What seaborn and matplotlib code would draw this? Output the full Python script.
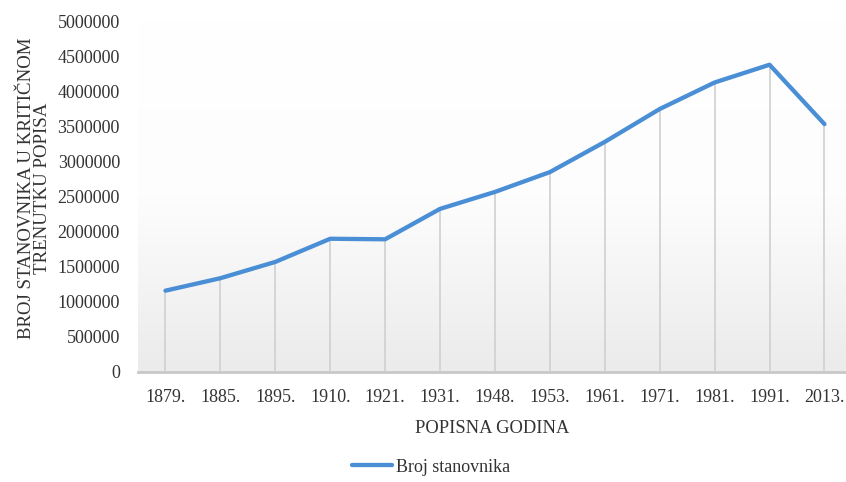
import numpy as np
import pandas as pd
import matplotlib
matplotlib.use("Agg")
import matplotlib.pyplot as plt
import seaborn as sns
from matplotlib.lines import Line2D
from matplotlib.colors import LinearSegmentedColormap

years = ["1879.", "1885.", "1895.", "1910.", "1921.", "1931.", "1948.",
         "1953.", "1961.", "1971.", "1981.", "1991.", "2013."]
population = [1158440, 1336091, 1568092, 1898044, 1890440, 2323555, 2565277,
              2847459, 3277948, 3746111, 4124256, 4377033, 3531159]
yticks = [0, 500000, 1000000, 1500000, 2000000, 2500000, 3000000,
          3500000, 4000000, 4500000, 5000000]
series_name = "Broj stanovnika"
ylabel_lines = ["BROJ STANOVNIKA U KRITIČNOM", "TRENUTKU POPISA"]

sns.set_style("white")
plt.rcParams['font.family'] = ['Liberation Serif', 'DejaVu Serif']

df = pd.DataFrame({"year": years, "pop": population})

W, H = 846, 482
fig = plt.figure(figsize=(W / 100, H / 100), dpi=100)
left, right_px, top_px, bottom_px = 138, 846, 21, 372
ax = fig.add_axes([left / W, (H - bottom_px) / H, (right_px - left) / W, (bottom_px - top_px) / H])

color = "#4A8FD6"
sns.lineplot(data=df, x="year", y="pop", ax=ax, color=color, linewidth=3.1,
             sort=False, legend=False, zorder=3)

xs = np.arange(len(years))
ax.vlines(xs, 0, population, color="#d0d0d0", linewidth=1.2, zorder=2)

spacing = (824 - 165) / 12.0
xlim = (-0.5, -0.5 + (right_px - left) / spacing)

# gradient background: white at top, light gray at bottom
grad = np.linspace(0, 1, 256).reshape(-1, 1)
cmap = LinearSegmentedColormap.from_list("g", ["#ffffff", "#fdfdfd", "#ebebeb"])
ax.imshow(grad, cmap=cmap, aspect='auto', extent=[0, 1, 0, 1],
          transform=ax.transAxes, zorder=0, origin='upper')

ax.set_xlim(*xlim)
ax.set_ylim(0, 5000000)
ax.set_yticks(yticks)
ax.set_yticklabels([str(v) for v in yticks], fontsize=13, color="#333333")
ax.set_xticks(xs)
ax.set_xticklabels(years, fontsize=13, color="#333333")
ax.tick_params(axis='both', length=0)
ax.tick_params(axis='y', pad=13)
ax.tick_params(axis='x', pad=12)

for s in ["top", "right", "left"]:
    ax.spines[s].set_visible(False)
ax.spines["bottom"].set_color("#c8c8c8")
ax.spines["bottom"].set_linewidth(2)
ax.spines["bottom"].set_zorder(4)

ax.set_xlabel("POPISNA GODINA", fontsize=13.3, color="#333333", labelpad=10)
ax.set_ylabel("")
for xpx, line in zip([31.5, 47.0], ylabel_lines):
    fig.text(xpx / W, 1 - 188 / H, line, rotation=90, rotation_mode="anchor",
             ha="center", va="baseline", fontsize=13.6, color="#333333")

handle = Line2D([], [], color=color, linewidth=3.1)
fig.legend([handle], [series_name], loc="center", bbox_to_anchor=(0.5095, 1 - 467 / H),
           frameon=False, fontsize=13, handlelength=2.2, handletextpad=0.25,
           labelcolor="#333333")

fig.savefig("out.png", dpi=100)
